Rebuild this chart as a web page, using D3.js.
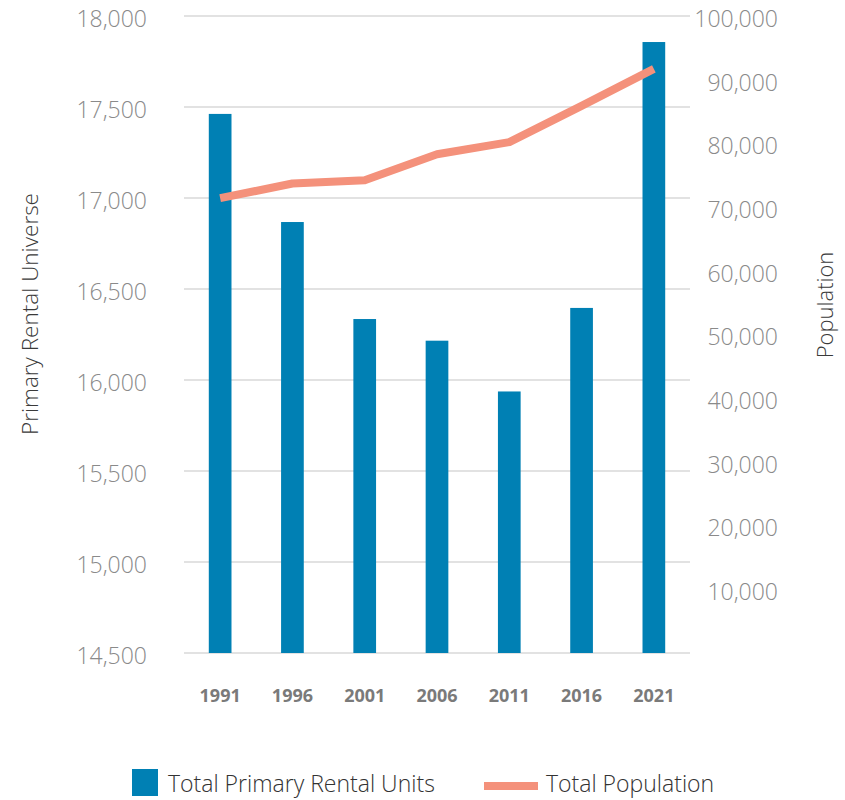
<!DOCTYPE html>
<html>
<head>
<meta charset="utf-8">
<script src="https://cdn.jsdelivr.net/npm/d3@7"></script>
<style>
  html, body { margin: 0; padding: 0; background: #fff; }
  svg { display: block; font-family: "Open Sans", "Noto Sans", sans-serif; }
</style>
</head>
<body>
<svg id="chart" width="845" height="800"></svg>
<script>
// Census years
const years = ["1991", "1996", "2001", "2006", "2011", "2016", "2021"];
// Primary rental universe (units) – left axis
const rentalUnits = [17462, 16868, 16335, 16216, 15937, 16396, 17857];
// Total population – right axis
const population = [71400, 73700, 74200, 78300, 80200, 85900, 91700];
// Axis ticks
const leftTicks = [14500, 15000, 15500, 16000, 16500, 17000, 17500, 18000];
const rightTicks = [10000, 20000, 30000, 40000, 50000, 60000, 70000, 80000, 90000, 100000];

const svg = d3.select("#chart");
const plotLeft = 184, plotRight = 690, plotTop = 16, plotBottom = 653;

const barColor = "#0080b4";
const lineColor = "#f4917b";
const gridColor = "#d9d9d9";
const tickColor = "#8a8a8a";

const x = d3.scaleBand()
  .domain(years)
  .range([plotLeft, plotRight])
  .paddingInner(0.686)
  .paddingOuter(0.343);

const yLeft = d3.scaleLinear().domain([14500, 18000]).range([plotBottom, plotTop]);
const yRight = d3.scaleLinear().domain([0, 100000]).range([plotBottom, plotTop]);

const fmt = d3.format(",");

// Horizontal gridlines on the left-axis ticks
svg.append("g")
  .selectAll("line")
  .data(leftTicks)
  .join("line")
  .attr("x1", plotLeft)
  .attr("x2", plotRight)
  .attr("y1", d => yLeft(d))
  .attr("y2", d => yLeft(d))
  .attr("stroke", gridColor)
  .attr("stroke-width", 1.6);

// Left axis labels
const leftAxis = d3.axisLeft(yLeft).tickValues(leftTicks).tickFormat(fmt).tickSize(0).tickPadding(0);
const gL = svg.append("g").attr("transform", "translate(147,0)").call(leftAxis);
gL.select(".domain").remove();
gL.selectAll("text")
  .attr("font-family", "'Open Sans', sans-serif")
  .attr("font-size", 23)
  .attr("font-weight", 300)
  .attr("fill", tickColor)
  .attr("dy", "0.45em");

// Right axis labels (right-aligned)
const rightAxis = d3.axisRight(yRight).tickValues(rightTicks).tickFormat(fmt).tickSize(0).tickPadding(0);
const gR = svg.append("g").attr("transform", "translate(778,0)").call(rightAxis);
gR.select(".domain").remove();
gR.selectAll("text")
  .attr("text-anchor", "end")
  .attr("font-family", "'Open Sans', sans-serif")
  .attr("font-size", 23)
  .attr("font-weight", 300)
  .attr("fill", tickColor)
  .attr("dy", "0.45em");

// Bars: primary rental units
svg.append("g")
  .selectAll("rect")
  .data(years.map((yr, i) => ({ yr, v: rentalUnits[i] })))
  .join("rect")
  .attr("x", d => x(d.yr))
  .attr("width", x.bandwidth())
  .attr("y", d => yLeft(d.v))
  .attr("height", d => yLeft(14500) - yLeft(d.v))
  .attr("fill", barColor);

// Line: total population
const line = d3.line()
  .x((d, i) => x(years[i]) + x.bandwidth() / 2)
  .y(d => yRight(d));

svg.append("path")
  .datum(population)
  .attr("d", line)
  .attr("fill", "none")
  .attr("stroke", lineColor)
  .attr("stroke-width", 8)
  .attr("stroke-linejoin", "round");

// Year labels
const xAxis = d3.axisBottom(x).tickSize(0).tickPadding(0);
const gX = svg.append("g").attr("transform", "translate(0,702)").call(xAxis);
gX.select(".domain").remove();
gX.selectAll("text")
  .attr("font-family", "'Open Sans', sans-serif")
  .attr("font-size", 18)
  .attr("font-weight", 700)
  .attr("fill", "#7a7a7a")
  .attr("dy", 0);

// Axis titles
svg.append("text")
  .attr("transform", "translate(38,314) rotate(-90)")
  .attr("text-anchor", "middle")
  .attr("font-size", 22.5)
  .attr("font-weight", 300)
  .attr("fill", "#3a3a3a")
  .text("Primary Rental Universe");

svg.append("text")
  .attr("transform", "translate(833,305) rotate(-90)")
  .attr("text-anchor", "middle")
  .attr("font-size", 22)
  .attr("font-weight", 300)
  .attr("fill", "#3a3a3a")
  .text("Population");

// Legend
const legend = svg.append("g");
legend.append("rect")
  .attr("x", 132).attr("y", 769)
  .attr("width", 26).attr("height", 27)
  .attr("fill", barColor);
legend.append("text")
  .attr("x", 168).attr("y", 792)
  .attr("font-size", 23)
  .attr("font-weight", 300)
  .attr("fill", "#333")
  .text("Total Primary Rental Units");
legend.append("line")
  .attr("x1", 484).attr("x2", 538)
  .attr("y1", 786).attr("y2", 786)
  .attr("stroke", lineColor)
  .attr("stroke-width", 8);
legend.append("text")
  .attr("x", 546).attr("y", 792)
  .attr("font-size", 23)
  .attr("font-weight", 300)
  .attr("fill", "#333")
  .text("Total Population");
</script>
</body>
</html>
